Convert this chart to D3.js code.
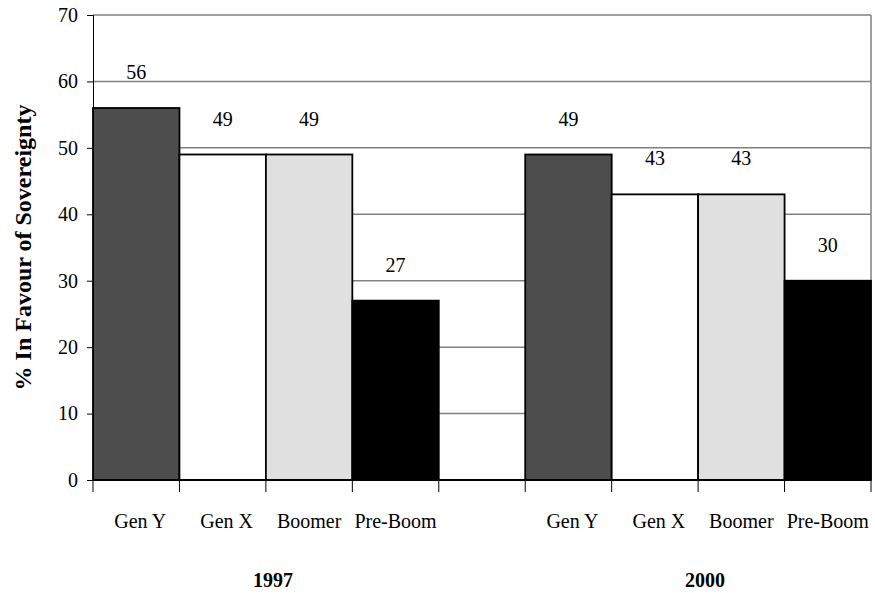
<!DOCTYPE html>
<html>
<head>
<meta charset="utf-8">
<script src="https://cdn.jsdelivr.net/npm/d3@7"></script>
<style>
  html, body { margin: 0; padding: 0; background: #fff; }
  svg text { font-family: "Liberation Serif", "Times New Roman", serif; fill: #000; }
</style>
</head>
<body>
<svg id="chart" width="875" height="593"></svg>
<script>
// Survey groups and years
const groups = ["Gen Y", "Gen X", "Boomer", "Pre-Boom"];
const years = ["1997", "2000"];
// Percent in favour of sovereignty, per year, in group order
const values1997 = [56, 49, 49, 27];
const values2000 = [49, 43, 43, 30];
const groupFills = ["#4d4d4d", "#ffffff", "#e0e0e0", "#000000"];
const yTicks = [0, 10, 20, 30, 40, 50, 60, 70];

const svg = d3.select("#chart");
const margin = { left: 93, right: 4, top: 15, bottom: 113 };
const W = 875, H = 593;
const x0 = margin.left, x1 = W - margin.right;
const yTop = margin.top, yBot = H - margin.bottom;

// Nine equal slots: four bars, an empty gap, four bars
const slots = [];
groups.forEach((g, i) => slots.push({ key: "1997-" + i, year: "1997", group: g, gi: i, value: values1997[i] }));
slots.push({ key: "gap", year: null });
groups.forEach((g, i) => slots.push({ key: "2000-" + i, year: "2000", group: g, gi: i, value: values2000[i] }));

const x = d3.scaleBand().domain(slots.map(d => d.key)).range([x0, x1]).padding(0);
const y = d3.scaleLinear().domain([0, 70]).range([yBot, yTop]);

// Horizontal gridlines
svg.append("g").selectAll("line")
  .data(yTicks.filter(t => t > 0))
  .join("line")
  .attr("x1", x0).attr("x2", x1)
  .attr("y1", d => y(d)).attr("y2", d => y(d))
  .attr("stroke", "#808080").attr("stroke-width", 1.5);

// Right edge of the plot
svg.append("line")
  .attr("x1", x1).attr("x2", x1).attr("y1", y(70)).attr("y2", y(0))
  .attr("stroke", "#808080").attr("stroke-width", 1.5);

const bars = slots.filter(d => d.year);

// Bars
svg.append("g").selectAll("rect")
  .data(bars)
  .join("rect")
  .attr("x", d => x(d.key))
  .attr("y", d => y(d.value))
  .attr("width", x.bandwidth())
  .attr("height", d => y(0) - y(d.value))
  .attr("fill", d => groupFills[d.gi])
  .attr("stroke", "#000").attr("stroke-width", 1.8);

// Value labels above the bars
svg.append("g").selectAll("text")
  .data(bars)
  .join("text")
  .attr("x", d => x(d.key) + x.bandwidth() / 2)
  .attr("y", d => y(d.value) - 29)
  .attr("text-anchor", "middle")
  .style("font-size", "20px")
  .text(d => d.value);

// Y axis
const yAxis = svg.append("g")
  .attr("transform", `translate(${x0},0)`)
  .call(d3.axisLeft(y).tickValues(yTicks).tickSize(6).tickPadding(9).tickFormat(d3.format("d")));
yAxis.select(".domain").attr("stroke", "#000").attr("stroke-width", 1);
yAxis.selectAll(".tick line").attr("stroke", "#000");
yAxis.selectAll(".tick text").style("font-size", "20px")
  .style("font-family", '"Liberation Serif", "Times New Roman", serif').attr("fill", "#000");

// X axis baseline and slot-boundary ticks
const boundaries = slots.map(d => x(d.key)).concat([x1]);
svg.append("line")
  .attr("x1", x0).attr("x2", x1).attr("y1", y(0)).attr("y2", y(0))
  .attr("stroke", "#000").attr("stroke-width", 2);
svg.append("g").selectAll("line")
  .data(boundaries)
  .join("line")
  .attr("x1", d => d).attr("x2", d => d)
  .attr("y1", y(0)).attr("y2", y(0) + 12)
  .attr("stroke", "#000").attr("stroke-width", 1);

// Group names under each bar
svg.append("g").selectAll("text")
  .data(bars)
  .join("text")
  .attr("x", d => x(d.key) + x.bandwidth() / 2 + (d.gi < 2 ? 4 : 0))
  .attr("y", y(0) + 48)
  .attr("text-anchor", "middle")
  .style("font-size", "20px")
  .text(d => d.group);

// Year labels centred under each group of bars
svg.append("g").selectAll("text")
  .data(years)
  .join("text")
  .attr("x", yr => {
    const ks = bars.filter(b => b.year === yr).map(b => x(b.key));
    return (d3.min(ks) + d3.max(ks) + x.bandwidth()) / 2 + 7;
  })
  .attr("y", y(0) + 107)
  .attr("text-anchor", "middle")
  .style("font-size", "20px").style("font-weight", "bold")
  .text(d => d);

// Y axis title
svg.append("text")
  .attr("transform", `translate(31,${(yTop + yBot) / 2}) rotate(-90)`)
  .attr("text-anchor", "middle")
  .style("font-size", "24px").style("font-weight", "bold")
  .text("% In Favour of Sovereignty");
</script>
</body>
</html>
